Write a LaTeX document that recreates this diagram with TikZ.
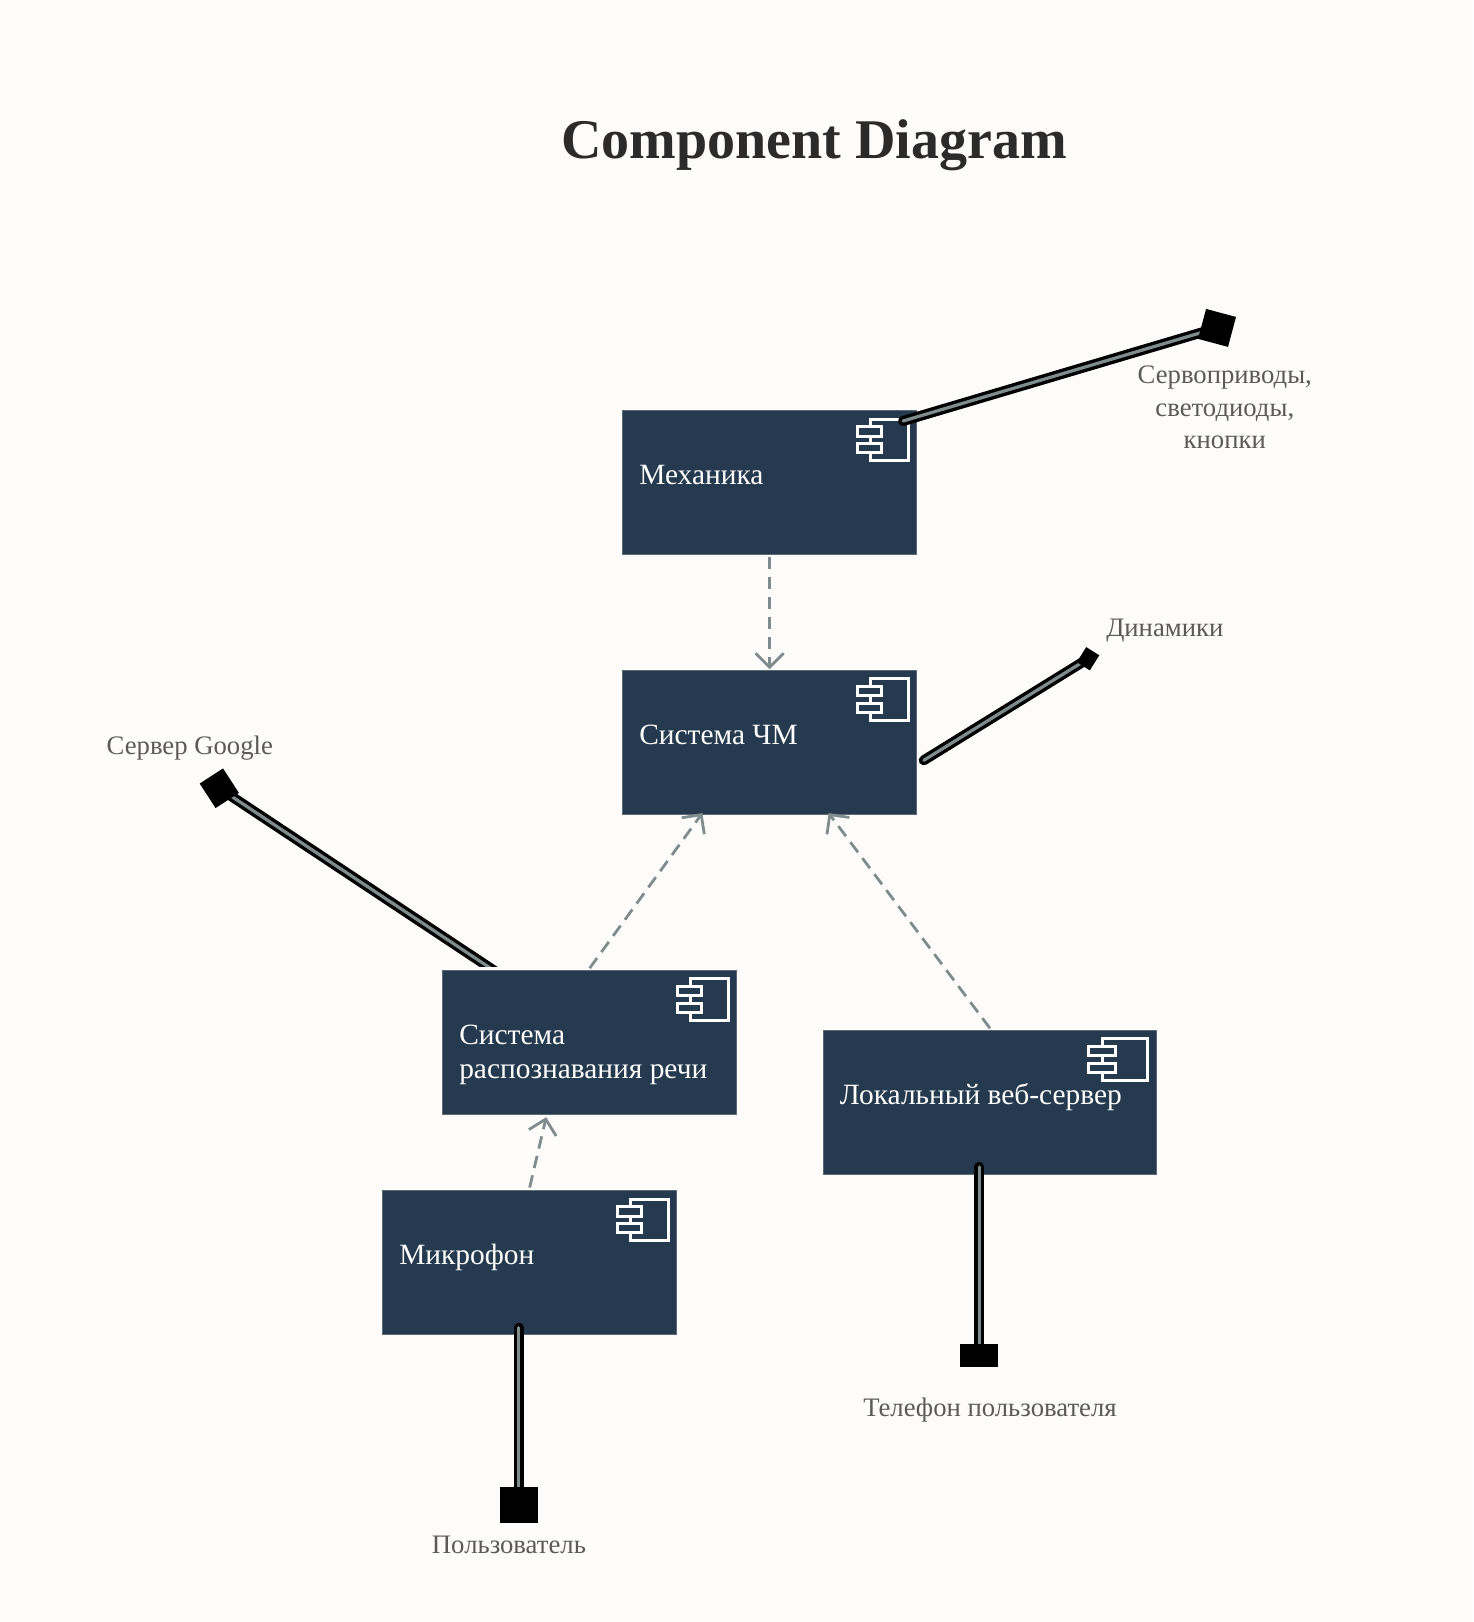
\documentclass[tikz,border=0pt]{standalone}
\usepackage{fontspec}
\setmainfont{Liberation Serif}
\usetikzlibrary{arrows.meta,calc}
\pgfdeclarelayer{paperlayer}\pgfdeclarelayer{bg}\pgfdeclarelayer{conn}\pgfdeclarelayer{term}
\pgfsetlayers{paperlayer,bg,main,conn,term}
\definecolor{navy}{HTML}{263A4F}
\definecolor{paper}{HTML}{FDFCFB}
\definecolor{dep}{HTML}{7F8C8D}
\definecolor{lab}{HTML}{5A5A5A}
\definecolor{ttl}{HTML}{2B2B2B}
\newcommand{\comptext}[2]{\begin{minipage}[c][71.9pt][t]{#1}\rule{0pt}{36.9pt}#2\end{minipage}}
\newcommand{\compicon}[5]{% node, right inset, big width, small left inset, small width
  \begin{scope}[shift={(#1.north east)},iconline]
    \draw (-#2,8.3) rectangle ++(-#3,40);
    \draw[fill=navy] (-#4,15.7) rectangle ++(#5,9);
    \draw[fill=navy] (-#4,31.9) rectangle ++(#5,9);
  \end{scope}}
\tikzset{
  x=0.5172pt,y=-0.5172pt,
  compbox/.style={draw=dep!60!navy,line width=0.4pt,fill=navy,text=white,inner xsep=8.27pt,inner ysep=0pt,outer sep=0pt,
    font=\fontsize{14.7}{17.07}\selectfont,anchor=north west},
  iconline/.style={draw=white,line width=1.5pt,line join=miter},
  dependency/.style={draw=dep,line width=1.4pt,dash pattern=on 6.3pt off 3.7pt,
    -{Straight Barb[length=7pt,width=14pt,line width=1.4pt]}},
  wire/.style={draw=black,line width=1.7pt,double=dep,double distance=1.6pt,line cap=round},
  terminal/.style={fill=black,draw=none,inner sep=0pt,outer sep=0pt},
  tag/.style={text=lab,font=\fontsize{13.35}{16.2}\selectfont,align=center,inner sep=0pt},
}
\begin{document}
\begin{tikzpicture}
\begin{pgfonlayer}{paperlayer}
\fill[paper] (0,0) rectangle (1424,1568);
\end{pgfonlayer}
\useasboundingbox (0,0) rectangle (1424,1568);
\node[font=\fontsize{28}{34}\bfseries\selectfont,text=ttl,anchor=base,inner sep=0pt] (title) at (787,153) {Component Diagram};

\node[compbox] (mech) at (602,397) {\comptext{130.4pt}{Механика}};
\node[compbox] (hmi) at (602,648) {\comptext{130.4pt}{Система ЧМ}};
\node[compbox] (asr) at (428,938) {\comptext{130.4pt}{Система\\распознавания речи}};
\node[compbox] (web) at (796,996) {\comptext{150pt}{Локальный веб-сервер}};
\node[compbox] (mic) at (370,1151) {\comptext{130.4pt}{Микрофон}};

\compicon{mech}{8}{37}{56.7}{23}
\compicon{hmi}{8}{37}{56.7}{23}
\compicon{asr}{8}{37}{56.7}{23}
\compicon{web}{8.5}{44}{65.5}{26}
\compicon{mic}{8}{37}{56.7}{23}

\begin{pgfonlayer}{term}
\node[terminal,minimum width=15.5pt,minimum height=15.5pt,rotate=-15] (servo) at (1176.5,317) {};
\node[terminal,minimum width=7.7pt,minimum height=8.9pt,rotate=-32] (spk) at (1051.8,636.8) {};
\node[terminal,minimum width=13.9pt,minimum height=14.6pt,rotate=33] (goog) at (212,762) {};
\node[terminal,minimum width=19pt,minimum height=18pt] (user) at (501.5,1454.5) {};
\node[terminal,minimum width=19pt,minimum height=11.5pt] (phone) at (946.5,1310) {};
\end{pgfonlayer}

\coordinate (wmech) at (873,407);
\coordinate (whmi) at (893,735);
\coordinate (wasr) at (478,938.5);
\coordinate (wweb) at (946.5,1128);
\coordinate (wmic) at (501.5,1283.5);
\coordinate (cliptl) at (0,0);
\coordinate (clipbr) at (1424,934.5);

\begin{pgfonlayer}{bg}
\begin{scope}
\clip (cliptl) rectangle (clipbr);
\draw[wire] (goog.center) -- (wasr);
\end{scope}
\end{pgfonlayer}
\begin{pgfonlayer}{conn}
\draw[wire] (wmech) -- (servo.center);
\draw[wire] (whmi) -- (spk.center);
\draw[wire] (wweb) -- (phone.center);
\draw[wire] (wmic) -- (user.center);
\coordinate (d1s) at (744,538);\coordinate (d1e) at (744,647);
\coordinate (d2s) at (570,936);\coordinate (d2e) at (679,786);
\coordinate (d3s) at (957,994);\coordinate (d3e) at (801,786);
\coordinate (d4s) at (512,1148);\coordinate (d4e) at (528,1080);
\draw[dependency] (d1s) -- (d1e);
\draw[dependency] (d2s) -- (d2e);
\draw[dependency] (d3s) -- (d3e);
\draw[dependency] (d4s) -- (d4e);
\end{pgfonlayer}

\node[tag,anchor=base] (t1) at (1184,433.5) {Сервоприводы,\\светодиоды,\\кнопки};
\node[tag,anchor=base] (t2) at (1126,615) {Динамики};
\node[tag,anchor=base] (t3) at (183.5,729) {Сервер Google};
\node[tag,anchor=base] (t4) at (957,1369) {Телефон пользователя};
\node[tag,anchor=base] (t5) at (492,1502) {Пользователь};
\end{tikzpicture}
\end{document}
